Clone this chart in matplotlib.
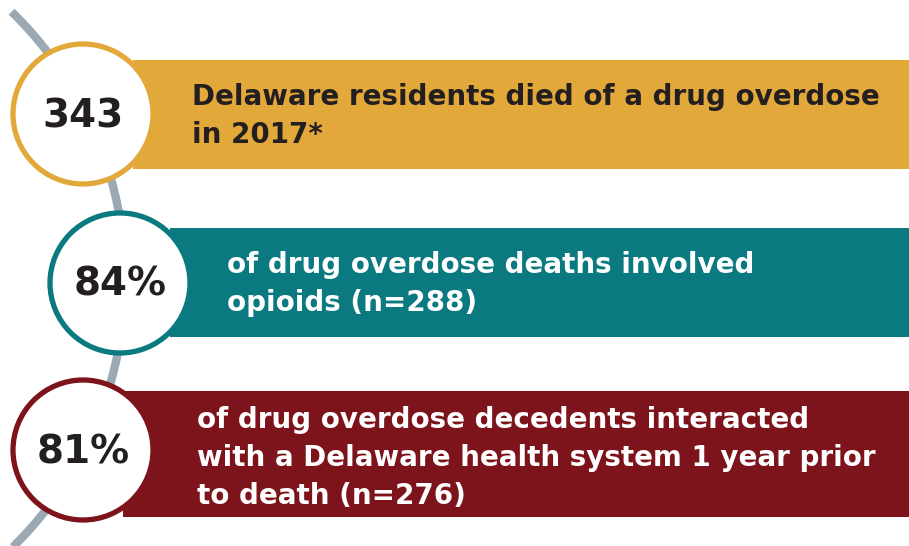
import numpy as np
import matplotlib
matplotlib.use('Agg')
import matplotlib.pyplot as plt
from matplotlib.patches import Rectangle, Circle

#--------------------------------------------------------------------------------------------------------------------------------
# Data
#--------------------------------------------------------------------------------------------------------------------------------

big_numbers = ['343', '84%', '81%']
statements = [
    ['Delaware residents died of a drug overdose', 'in 2017*'],
    ['of drug overdose deaths involved', 'opioids (n=288)'],
    ['of drug overdose decedents interacted', 'with a Delaware health system 1 year prior', 'to death (n=276)'],
]
colors = ['#E3A83A', '#0A7A80', '#7D141B']
text_colors = ['#231F20', '#FFFFFF', '#FFFFFF']

#--------------------------------------------------------------------------------------------------------------------------------
# Layout (pixel coordinates, y down)
#--------------------------------------------------------------------------------------------------------------------------------

W, H = 909, 546
banner_left = [133, 170, 123]
banner_top = [60, 228, 391]
banner_bottom = [169, 337, 517]
circle_x = [83, 120, 83]
circle_y = [114, 283, 450]
circle_r = 70
text_x = [192, 227, 197]
first_baseline = [105, 273, 428]
line_gap = 38

fig = plt.figure(figsize=(W / 100, H / 100), dpi=100)
ax = fig.add_axes([0, 0, 1, 1])
ax.set_xlim(0, W)
ax.set_ylim(H, 0)
ax.axis('off')

# grey arc running behind the circles
arc_cx, arc_cy, arc_r = -249, 280, 374
t = np.linspace(-0.80, 0.9, 300)
ax.plot(arc_cx + arc_r * np.cos(t), arc_cy + arc_r * np.sin(t), color='#9AA9B3', lw=6, zorder=1,
        solid_capstyle='butt')

for i in range(3):
    # coloured banner, then the white circle holding the big number
    ax.add_patch(Rectangle((banner_left[i], banner_top[i]), W - banner_left[i],
                           banner_bottom[i] - banner_top[i], facecolor=colors[i], edgecolor='none', zorder=2))
    ax.add_patch(Circle((circle_x[i], circle_y[i]), circle_r, facecolor='white', edgecolor=colors[i],
                        lw=3.8, zorder=3))
    ax.text(circle_x[i], circle_y[i] + 2, big_numbers[i], ha='center', va='center', fontsize=28,
            fontweight='bold', color='#231F20', family='DejaVu Sans', zorder=4)
    for j, line in enumerate(statements[i]):
        ax.text(text_x[i], first_baseline[i] + j * line_gap, line, ha='left', va='baseline', fontsize=20,
                fontweight='bold', color=text_colors[i], family='DejaVu Sans', zorder=4)

fig.savefig('out.png', dpi=100)
